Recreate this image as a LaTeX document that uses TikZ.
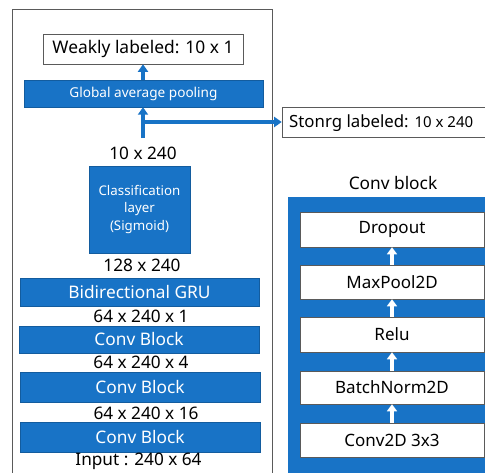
\documentclass[tikz,border=0pt]{standalone}
\usepackage{fontspec}
\setmainfont{Noto Sans}
\usetikzlibrary{arrows.meta}
\definecolor{netblue}{RGB}{24,115,198}
\definecolor{framegray}{RGB}{90,90,90}
\tikzset{
  bar/.style={fill=netblue, draw=netblue!80!black, line width=0.4pt, text=white, inner sep=0pt, font=\fontsize{17.3}{20}\selectfont},
  outbox/.style={fill=white, draw=framegray, line width=0.6pt, inner sep=0pt, font=\fontsize{17.4}{20}\selectfont},
  layerbox/.style={fill=white, draw=framegray, line width=0.5pt, inner sep=0pt, minimum width=184pt, font=\fontsize{17}{20}\selectfont},
  dimlabel/.style={inner sep=0pt, font=\fontsize{17.2}{20}\selectfont},
  bluearrow/.style={draw=netblue, line width=3.3pt, -{Triangle[length=7.5pt,width=10pt]}},
  whitearrow/.style={draw=white, line width=3.3pt, -{Triangle[length=7pt,width=10pt]}},
}
\begin{document}
\begin{tikzpicture}[x=1pt,y=-1pt]
  \useasboundingbox (0,0) rectangle (485,472);
  \clip (0,0) rectangle (485,472);

  % outer frame of the network column
  \draw[framegray, line width=0.8pt] (12,9) -- (272,9) -- (272,490) (12,9) -- (12,490);

  % network column
  \node[outbox, minimum width=200pt, minimum height=30pt] (weak) at (143,49) {Weakly labeled: 10 x 1};
  \node[bar, minimum width=239pt, minimum height=27pt, font=\fontsize{13.6}{16}\selectfont] (gap) at (143.5,93.5) {Global average pooling};
  \coordinate (feat) at (143,138);
  \coordinate (branch) at (143,122);
  \node[dimlabel] (d1) at (143,153) {10 x 240};
  \node[bar, minimum width=101pt, minimum height=87pt, align=center, font=\fontsize{13.3}{17.5}\selectfont] (cls) at (139.5,209.5) {Classification\\layer\\(Sigmoid)};
  \node[dimlabel] (d2) at (142,265) {128 x 240};
  \node[bar, minimum width=239pt, minimum height=28pt] (gru) at (139.5,292) {Bidirectional GRU};
  \node[dimlabel] (d3) at (141,316) {64 x 240 x 1};
  \node[bar, minimum width=240pt, minimum height=27pt] (cb1) at (139,339.5) {Conv Block};
  \node[dimlabel] (d4) at (141,362) {64 x 240 x 4};
  \node[bar, minimum width=240pt, minimum height=30pt] (cb2) at (140,387) {Conv Block};
  \node[dimlabel] (d5) at (146,413) {64 x 240 x 16};
  \node[bar, minimum width=240pt, minimum height=30pt] (cb3) at (140,437) {Conv Block};
  \node[dimlabel] (d6) at (138.5,461) {Input : 240 x 64};

  % strong label output
  \node[outbox, minimum width=215pt, minimum height=30pt] (strong) at (389.5,122) {};
  \node[anchor=west, inner sep=0pt, font=\fontsize{16.8}{20}\selectfont] (stext) at (289,123)
    {Stonrg labeled: {\fontsize{15}{17}\selectfont 10 x 240}};

  \draw[bluearrow] (gap.north -| weak.south) -- (weak.south);
  \draw[bluearrow] (feat) -- (feat |- gap.south);
  \draw[bluearrow] (branch) -- (strong.west |- branch);

  % conv block detail
  \node[inner sep=0pt, font=\fontsize{17.3}{20}\selectfont] (cbtitle) at (393,183) {Conv block};
  \fill[netblue] (288,197) rectangle (495,480);
  \node[layerbox, minimum height=35pt] (drop) at (392,229.5) {Dropout};
  \node[layerbox, minimum height=34pt] (pool) at (392,282) {MaxPool2D};
  \node[layerbox, minimum height=35pt] (relu) at (392,334.5) {Relu};
  \node[layerbox, minimum height=33pt] (bn) at (392,387.5) {BatchNorm2D};
  \node[layerbox, minimum height=34pt] (conv) at (392,440) {Conv2D 3x3};
  \draw[whitearrow] (conv.north) -- (bn.south);
  \draw[whitearrow] (bn.north) -- (relu.south);
  \draw[whitearrow] (relu.north) -- (pool.south);
  \draw[whitearrow] (pool.north) -- (drop.south);
\end{tikzpicture}
\end{document}
